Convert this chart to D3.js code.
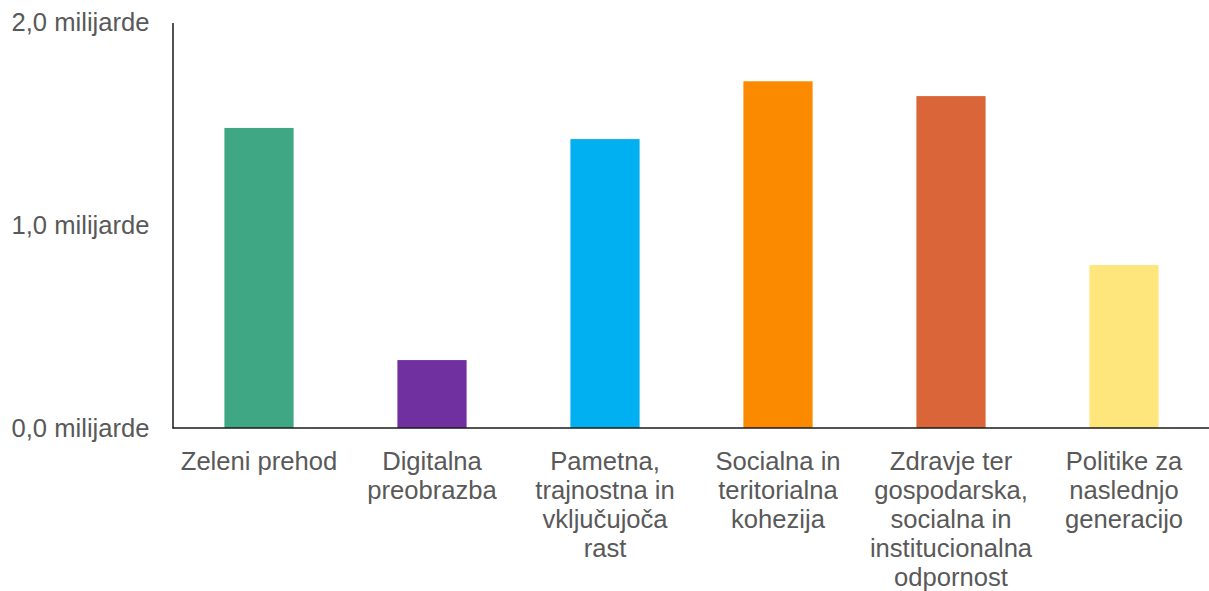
<!DOCTYPE html>
<html>
<head>
<meta charset="utf-8">
<script src="https://cdn.jsdelivr.net/npm/d3@7"></script>
<style>
  html, body { margin: 0; padding: 0; background: #fff; }
  svg text { font-family: "Liberation Sans", Arial, sans-serif; fill: #595959; }
</style>
</head>
<body>
<svg id="chart" width="1209" height="591"></svg>
<script>
const categories = [
  "Zeleni prehod",
  "Digitalna\npreobrazba",
  "Pametna,\ntrajnostna in\nvključujoča\nrast",
  "Socialna in\nteritorialna\nkohezija",
  "Zdravje ter\ngospodarska,\nsocialna in\ninstitucionalna\nodpornost",
  "Politike za\nnaslednjo\ngeneracijo"
];
const values = [1.48, 0.335, 1.425, 1.71, 1.637, 0.804];
const colors = ["#3FA783", "#7030A0", "#00B0F0", "#FB8A00", "#D96538", "#FFE67C"];
const tickValues = [0, 1, 2];
const tickLabels = ["0,0 milijarde", "1,0 milijarde", "2,0 milijarde"];

const svg = d3.select("#chart");
const margin = { left: 172.5, right: 0, top: 22.5, bottom: 163 };
const W = 1209, H = 591;
const FS = 25.6;

const x = d3.scaleBand()
  .domain(categories)
  .range([margin.left, margin.left + 1038])
  .paddingInner(0.6)
  .paddingOuter(0.3);

const y = d3.scaleLinear()
  .domain([0, 2])
  .range([428, margin.top]);

svg.append("g")
  .selectAll("rect")
  .data(values)
  .join("rect")
  .attr("x", (d, i) => x(categories[i]))
  .attr("width", x.bandwidth())
  .attr("y", d => y(d))
  .attr("height", d => y(0) - y(d))
  .attr("fill", (d, i) => colors[i]);

// Y axis
const yAxis = d3.axisLeft(y)
  .tickValues(tickValues)
  .tickFormat((d, i) => tickLabels[i])
  .tickSize(0)
  .tickPadding(23);
const gy = svg.append("g")
  .attr("transform", `translate(${margin.left},0)`)
  .call(yAxis);
gy.select(".domain").attr("stroke", "#1a1a1a").attr("stroke-width", 1.5);
gy.selectAll("text")
  .attr("font-size", FS)
  .attr("fill", "#595959")
  .style("font-family", "'Liberation Sans', Arial, sans-serif");

// X axis
const xAxis = d3.axisBottom(x).tickSize(0).tickPadding(0);
const gx = svg.append("g")
  .attr("transform", `translate(0,${y(0)})`)
  .call(xAxis);
gx.select(".domain")
  .attr("d", `M${margin.left},0H${W}`)
  .attr("stroke", "#1a1a1a").attr("stroke-width", 1.5);
gx.selectAll(".tick text").each(function(d) {
  const t = d3.select(this);
  const lines = d.split("\n");
  t.text(null)
    .attr("y", 0)
    .attr("dy", null)
    .attr("font-size", FS)
    .attr("fill", "#595959")
    .style("font-family", "'Liberation Sans', Arial, sans-serif");
  lines.forEach((line, k) => {
    t.append("tspan")
      .attr("x", 0)
      .attr("y", 41.5 + k * 29)
      .text(line);
  });
});
</script>
</body>
</html>
